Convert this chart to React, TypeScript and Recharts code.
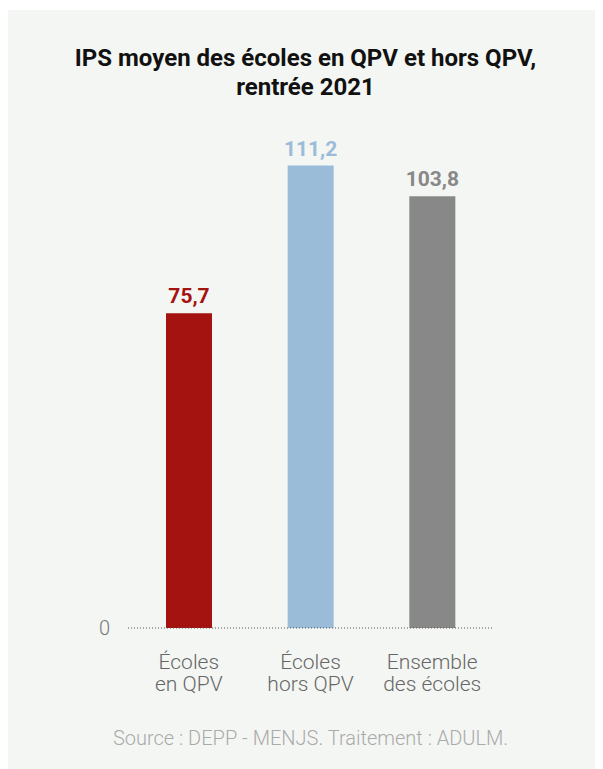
import React from 'react';
import { BarChart, Bar, XAxis, YAxis, Cell, LabelList } from 'recharts';

const categories = ['Écoles|en QPV', 'Écoles|hors QPV', 'Ensemble|des écoles'];
const values = [75.7, 111.2, 103.8];
const barColors = ['#a51311', '#9bbcd8', '#888888'];
const yTicks = [0];

const data = categories.map((c, i) => ({ name: c, value: values[i], color: barColors[i] }));

const FONT = 'Roboto, "Noto Sans", sans-serif';

// two-line category label, split on "|"
const CategoryTick = ({ x, y, payload }: any) => {
  const lines = String(payload.value).split('|');
  return (
    <text x={x} y={y} textAnchor="middle" fontFamily={FONT} fontSize={21} fontWeight={300} fill="#666">
      {lines.map((l, i) => (
        <tspan key={i} x={x} dy={i === 0 ? 33 : 22}>{l}</tspan>
      ))}
    </text>
  );
};

const ValueLabel = ({ x, y, width, value, index }: any) => (
  <text
    x={x + width / 2}
    y={y - 10}
    textAnchor="middle"
    fontFamily={FONT}
    fontSize={21}
    fontWeight={700}
    fill={barColors[index]}
  >
    {String(value).replace('.', ',')}
  </text>
);

export default function App() {
  return (
    <div style={{ paddingTop: 2 }}>
      <div style={{ position: 'relative', width: 595, height: 759, background: '#f4f6f3', fontFamily: FONT }}>
        <div
          style={{
            position: 'absolute',
            top: 34,
            left: 0,
            width: 595,
            textAlign: 'center',
            fontSize: 24,
            lineHeight: '29px',
            fontWeight: 700,
            color: '#111',
          }}
        >
          IPS moyen des écoles en QPV et hors QPV,
          <br />
          rentrée 2021
        </div>
        <div style={{ position: 'absolute', top: 100, left: 0 }}>
          <BarChart width={595} height={600} data={data} margin={{ top: 19, right: 110, bottom: 0, left: 0 }}>
            <XAxis
              dataKey="name"
              tick={<CategoryTick />}
              tickLine={false}
              axisLine={{ stroke: '#555', strokeDasharray: '1 2' }}
              height={82}
              interval={0}
            />
            <YAxis
              domain={[0, 120]}
              ticks={yTicks}
              width={120}
              axisLine={false}
              tickLine={false}
              tickSize={0}
              tickMargin={18}
              tick={{ fill: '#777', fontSize: 20, fontWeight: 300, fontFamily: FONT }}
            />
            <Bar dataKey="value" barSize={46} isAnimationActive={false}>
              {data.map((d, i) => (
                <Cell key={i} fill={d.color} />
              ))}
              <LabelList dataKey="value" content={<ValueLabel />} />
            </Bar>
          </BarChart>
        </div>
        <div
          style={{
            position: 'absolute',
            top: 716,
            left: 5,
            width: 595,
            textAlign: 'center',
            fontSize: 20,
            fontWeight: 300,
            color: '#aaa',
          }}
        >
          Source : DEPP - MENJS. Traitement : ADULM.
        </div>
      </div>
    </div>
  );
}
